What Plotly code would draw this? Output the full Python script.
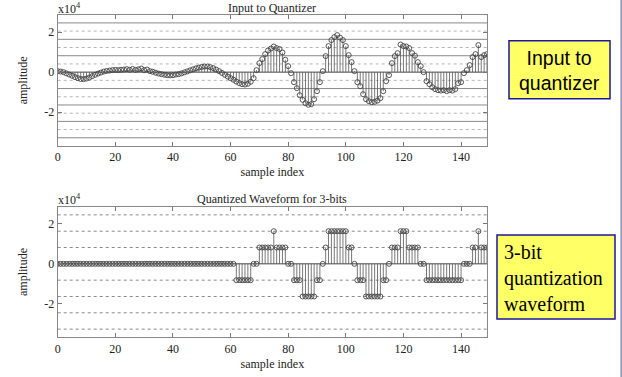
import plotly.graph_objects as go

# ---------------- data (amplitude in units of 1e4) ----------------
sample_index = list(range(150))

input_signal = [
    0.05, 0.03, 0.0, -0.06, -0.12, -0.18, -0.25, -0.3, -0.34, -0.35,
    -0.32, -0.27, -0.2, -0.13, -0.07, -0.02, 0.03, 0.06, 0.08, 0.1,
    0.11, 0.1, 0.12, 0.13, 0.15, 0.12, 0.16, 0.11, 0.14, 0.18,
    0.1, 0.13, 0.05, 0.02, -0.03, -0.07, -0.1, -0.13, -0.15, -0.16,
    -0.15, -0.12, -0.1, -0.06, -0.01, 0.04, 0.09, 0.14, 0.19, 0.23,
    0.26, 0.28, 0.28, 0.25, 0.2, 0.13, 0.05, -0.04, -0.13, -0.22,
    -0.3, -0.38, -0.47, -0.55, -0.6, -0.62, -0.58, -0.48, -0.3, 0.1,
    0.45, 0.65, 0.9, 1.08, 1.18, 1.28, 1.2, 1.15, 0.98, 0.62,
    0.3, -0.05, -0.5, -0.8, -1.15, -1.38, -1.55, -1.63, -1.6, -1.35,
    -0.95, -0.5, 0.05, 0.8, 1.3, 1.6, 1.75, 1.85, 1.72, 1.6,
    1.3, 0.85, 0.5, 0.05, -0.5, -0.7, -1.1, -1.35, -1.45, -1.5,
    -1.48, -1.42, -1.3, -0.95, -0.45, -0.15, 0.45, 0.8, 0.95, 1.38,
    1.3, 1.28, 1.2, 0.95, 0.82, 0.5, 0.3, 0.0, -0.45, -0.6,
    -0.75, -0.85, -0.9, -0.92, -0.9, -0.95, -0.9, -0.92, -0.85, -0.55,
    -0.5, -0.05, 0.1, 0.35, 0.75, 0.9, 1.35, 0.75, 0.85, 0.9,
]

quantized_signal = [
    0, 0, 0, 0, 0, 0, 0, 0, 0, 0,
    0, 0, 0, 0, 0, 0, 0, 0, 0, 0,
    0, 0, 0, 0, 0, 0, 0, 0, 0, 0,
    0, 0, 0, 0, 0, 0, 0, 0, 0, 0,
    0, 0, 0, 0, 0, 0, 0, 0, 0, 0,
    0, 0, 0, 0, 0, 0, 0, 0, 0, 0,
    0, 0, -0.8192, -0.8192, -0.8192, -0.8192, -0.8192, -0.8192, 0, 0,
    0.8192, 0.8192, 0.8192, 0.8192, 0.8192, 1.6384, 0.8192, 0.8192, 0.8192, 0.8192,
    0, 0, -0.8192, -0.8192, -0.8192, -1.6384, -1.6384, -1.6384, -1.6384, -1.6384,
    -0.8192, -0.8192, 0, 0.8192, 1.6384, 1.6384, 1.6384, 1.6384, 1.6384, 1.6384,
    1.6384, 0.8192, 0.8192, 0, -0.8192, -0.8192, -0.8192, -1.6384, -1.6384, -1.6384,
    -1.6384, -1.6384, -1.6384, -0.8192, -0.8192, 0, 0.8192, 0.8192, 0.8192, 1.6384,
    1.6384, 1.6384, 0.8192, 0.8192, 0.8192, 0.8192, 0, 0, -0.8192, -0.8192,
    -0.8192, -0.8192, -0.8192, -0.8192, -0.8192, -0.8192, -0.8192, -0.8192, -0.8192, -0.8192,
    -0.8192, 0, 0, 0, 0.8192, 0.8192, 1.6384, 0.8192, 0.8192, 0.8192,
]

level_lines = [-3.2768, -2.4576, -1.6384, -0.8192, 0.8192, 1.6384, 2.4576]
threshold_lines = [-2.8672, -2.048, -1.2288, -0.4096, 0.4096, 1.2288, 2.048]
x_ticks = [0, 20, 40, 60, 80, 100, 120, 140]
y_ticks = [-2, 0, 2]
y_tick_text = ["-2", "0", "2"]

titles = ["Input to Quantizer", "Quantized Waveform for 3-bits"]
x_label = "sample index"
y_label = "amplitude"

W, H = 622, 377
SERIF = "Times New Roman, Liberation Serif, serif"
SANS = "Arial, Liberation Sans, sans-serif"


def px(x):
    return x / W


def py(y):
    return 1 - y / H


fig = go.Figure()


def add_stem(xs, ys, xa, ya):
    sx, sy = [], []
    for x, y in zip(xs, ys):
        sx += [x, x, None]
        sy += [0, y, None]
    fig.add_trace(go.Scatter(x=sx, y=sy, mode="lines", xaxis=xa, yaxis=ya,
                             line=dict(color="#555555", width=0.8),
                             hoverinfo="skip", showlegend=False))
    fig.add_trace(go.Scatter(x=xs, y=ys, mode="markers", xaxis=xa, yaxis=ya,
                             marker=dict(symbol="circle-open", size=5,
                                         color="#444444", line=dict(width=0.9)),
                             showlegend=False))


add_stem(sample_index, input_signal, "x", "y")
add_stem(sample_index, quantized_signal, "x2", "y2")

shapes = []
for lv in level_lines:
    shapes.append(dict(type="line", xref="x domain", yref="y", x0=0, x1=1, y0=lv, y1=lv,
                       line=dict(color="#8a8a8a", width=1), layer="below"))
    shapes.append(dict(type="line", xref="x2 domain", yref="y2", x0=0, x1=1, y0=lv, y1=lv,
                       line=dict(color="#8a8a8a", width=1, dash="dot"), layer="below"))
for tv in threshold_lines:
    shapes.append(dict(type="line", xref="x domain", yref="y", x0=0, x1=1, y0=tv, y1=tv,
                       line=dict(color="#b5b5b5", width=1, dash="dot"), layer="below"))
for xr, yr in (("x domain", "y"), ("x2 domain", "y2")):
    shapes.append(dict(type="line", xref=xr, yref=yr, x0=0, x1=1, y0=0, y1=0,
                       line=dict(color="#444444", width=1), layer="below"))

shapes.append(dict(type="rect", xref="paper", yref="paper",
                   x0=px(509), x1=px(610), y0=py(98.7), y1=py(40.7),
                   fillcolor="#FFFF66", line=dict(color="#1a1a99", width=1.5)))
shapes.append(dict(type="rect", xref="paper", yref="paper",
                   x0=px(497), x1=px(615), y0=py(319), y1=py(235),
                   fillcolor="#FFFF66", line=dict(color="#1a1a99", width=1.5)))
shapes.append(dict(type="line", xref="paper", yref="paper",
                   x0=px(621.2), x1=px(621.2), y0=0, y1=1,
                   line=dict(color="#8c8cc8", width=1.5)))

annotations = [
    dict(text=titles[0], xref="paper", yref="paper", x=px(272), y=py(8),
         showarrow=False, font=dict(family=SERIF, size=12, color="#222"),
         xanchor="center", yanchor="middle"),
    dict(text=titles[1], xref="paper", yref="paper", x=px(272), y=py(199),
         showarrow=False, font=dict(family=SERIF, size=12, color="#222"),
         xanchor="center", yanchor="middle"),
    dict(text="x10<sup>4</sup>", xref="paper", yref="paper", x=px(56), y=py(8),
         showarrow=False, font=dict(family=SERIF, size=12, color="#222"),
         xanchor="left", yanchor="middle"),
    dict(text="x10<sup>4</sup>", xref="paper", yref="paper", x=px(56), y=py(199),
         showarrow=False, font=dict(family=SERIF, size=12, color="#222"),
         xanchor="left", yanchor="middle"),
    dict(text="Input to<br>quantizer", xref="paper", yref="paper",
         x=px(559.5), y=py(70), showarrow=False,
         font=dict(family=SANS, size=19.5, color="#000"),
         xanchor="center", yanchor="middle", align="center"),
    dict(text="3-bit<br>quantization<br>waveform", xref="paper", yref="paper",
         x=px(502), y=py(277.5), showarrow=False,
         font=dict(family=SERIF, size=20, color="#000"),
         xanchor="left", yanchor="middle", align="left"),
]

axis_font = dict(family=SERIF, size=12, color="#222")
common_x = dict(range=[0, 149], tickvals=x_ticks, ticks="inside", ticklen=4,
                tickcolor="#777", showline=True, linecolor="#888", linewidth=1,
                mirror="ticks", showgrid=False, zeroline=False, automargin=False,
                tickfont=axis_font, fixedrange=True)
common_y = dict(range=[-3.6864, 2.8672], tickvals=y_ticks, ticktext=y_tick_text,
                ticks="inside", ticklen=4, tickcolor="#777", showline=True,
                linecolor="#888", linewidth=1, mirror="ticks", showgrid=False,
                zeroline=False, automargin=False, tickfont=axis_font, fixedrange=True)

xd = [px(57.7), px(487)]
fig.update_layout(
    width=W, height=H,
    margin=dict(l=0, r=0, t=0, b=0, autoexpand=False),
    paper_bgcolor="white", plot_bgcolor="white",
    xaxis=dict(common_x, domain=xd, anchor="y",
               title=dict(text=x_label, font=axis_font, standoff=4)),
    yaxis=dict(common_y, domain=[py(146), py(14.7)], anchor="x",
               title=dict(text=y_label, font=axis_font, standoff=14)),
    xaxis2=dict(common_x, domain=xd, anchor="y2",
                title=dict(text=x_label, font=axis_font, standoff=4)),
    yaxis2=dict(common_y, domain=[py(337.3), py(206.7)], anchor="x2",
                title=dict(text=y_label, font=axis_font, standoff=14)),
    shapes=shapes,
    annotations=annotations,
    showlegend=False,
)

# remove the default 8px page margin so the figure fills the window exactly
fig.write_html("out.html",
               config={"displayModeBar": False},
               post_script="document.body.style.margin='0';"
                           "document.body.style.overflow='hidden';")
